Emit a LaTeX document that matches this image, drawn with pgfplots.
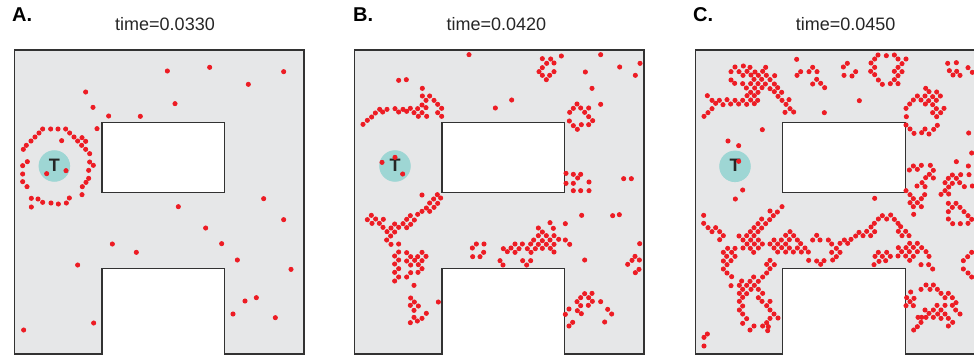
\documentclass[border=0pt]{standalone}
\usepackage{pgfplots}
\pgfplotsset{compat=1.18}
\usepackage{fontspec}
\setmainfont{Liberation Sans}
\definecolor{shapegray}{RGB}{230,231,232}
\definecolor{edgec}{RGB}{50,50,50}
\definecolor{dotred}{RGB}{237,28,36}
\definecolor{tealc}{RGB}{158,214,212}
\pgfplotsset{
  panel/.style={scale only axis, width=144.667pt, height=152pt,
    xmin=44, xmax=912, ymin=150, ymax=1062, y dir=reverse,
    hide axis, clip=false, anchor=north west},
  dot/.style={only marks, mark=*, mark size=1.05pt, color=dotred},
  target/.style={only marks, mark=*, mark size=7.67pt, color=tealc},
}
\newcommand{\tfont}{\fontsize{9}{10}\selectfont}
\newcommand{\lfont}{\bfseries\fontsize{9}{10}\selectfont}
\newcommand{\pfont}{\bfseries\fontsize{10}{11}\selectfont}
\begin{document}
\begin{tikzpicture}
\useasboundingbox (0,0) rectangle (487pt,-179pt);
\clip (0,0) rectangle (487pt,-179pt);
% labels and titles
\node[anchor=base west, inner sep=0pt, font=\pfont] at (5.85pt,-10.85pt) {A.};
\node[anchor=base west, inner sep=0pt, font=\pfont] at (176.35pt,-10.85pt) {B.};
\node[anchor=base west, inner sep=0pt, font=\pfont] at (346.35pt,-10.85pt) {C.};
\node[anchor=base, inner sep=0pt, font=\tfont, text=black!85] at (82.5pt,-15.5pt) {time=0.0330};
\node[anchor=base, inner sep=0pt, font=\tfont, text=black!85] at (248.2pt,-15.5pt) {time=0.0420};
\node[anchor=base, inner sep=0pt, font=\tfont, text=black!85] at (422.8pt,-15.5pt) {time=0.0450};

% ---------------- Panel A
\begin{axis}[panel, at={(7.333pt,-25pt)}]
\addplot[fill=shapegray, draw=edgec, line width=0.6pt] coordinates {(44,150) (912,150) (912,1062) (674,1062) (674,805) (306,805) (306,1062) (44,1062)} -- cycle;
\addplot[fill=white, draw=edgec, line width=0.6pt] coordinates {(306,367) (674,367) (674,577) (306,577)} -- cycle;
\addplot[target] coordinates {(163,498)};
\addplot[dot] coordinates {
(502,213) (629,202) (851,215) (745,253) (257,276) (279,322) (525,311) (326,348) (421,349) (291,386)
(128,387) (152,387) (174,387) (197,387) (117,399) (209,399) (105,411) (222,411) (93,423) (185,422) (233,423) (246,413) (257,424) (79,436) (245,436) (70,448) (257,448) (269,461) (82,485) (269,486) (68,497) (280,496) (68,522) (266,511) (140,521) (198,512) (266,535) (68,545) (258,547) (81,560) (247,560) (246,584) (94,595) (114,597) (208,594) (128,607) (153,609) (175,612) (199,609) (94,621)
(535,620) (791,596) (851,659) (617,684) (337,732) (665,731) (409,757) (712,780) (233,795) (873,808) (769,893) (735,903) (699,942) (826,953) (281,969) (71,990)
};
\end{axis}

% ---------------- Panel B
\begin{axis}[panel, at={(177.333pt,-25pt)}]
\addplot[fill=shapegray, draw=edgec, line width=0.6pt] coordinates {(44,150) (912,150) (912,1062) (674,1062) (674,805) (306,805) (306,1062) (44,1062)} -- cycle;
\addplot[fill=white, draw=edgec, line width=0.6pt] coordinates {(306,367) (674,367) (674,577) (306,577)} -- cycle;
\addplot[target] coordinates {(165,498)};
\addplot[dot] coordinates {
(387,164) (176,241) (199,239) (247,265) (247,288) (269,288) (258,301) (282,301) (246,315) (258,323) (293,313) (305,325) (293,338) (305,349) (260,349) (235,349) (246,338) (233,326) (222,338) (211,325) (200,334) (189,328) (176,336) (165,326) (141,328) (128,336) (119,328) (106,339) (95,351) (82,361) (69,373) (466,324)
(126,487) (188,522)
(246,585) (292,584) (302,594) (281,597) (269,609) (293,610) (259,624) (282,622) (246,634) (269,634) (233,643) (211,647) (223,660) (200,658) (189,671) (212,673) (200,683) (176,682) (164,672) (153,684) (164,696) (152,708) (140,720) (153,733) (176,732) (94,646) (82,659) (107,657) (96,670) (118,670) (130,658) (129,682) (141,695)
(176,756) (164,768) (176,780) (164,792) (176,806) (164,817) (176,831) (164,843) (200,758) (212,770) (200,783) (224,781) (212,795) (233,770) (246,757) (258,769) (246,782) (235,794) (246,806) (212,818) (234,817) (200,831) (222,856) (212,894) (223,906) (211,916) (235,918) (222,931) (259,940) (222,952) (246,955) (232,963) (211,968) (295,906)
(409,732) (432,732) (397,744) (431,757) (398,770) (420,770)
(607,176) (632,177) (642,189) (620,190) (607,203) (597,215) (607,226) (629,226) (642,215) (619,239) (664,168) (782,164) (839,201) (900,190) (886,226) (736,216) (756,265) (782,313) (515,300)
(711,312) (700,325) (722,324) (746,324) (689,337) (734,337) (746,350) (758,362) (688,363) (700,377) (724,374) (746,374) (712,388)
(678,520) (700,523) (722,523) (713,534) (678,550) (700,550) (747,546) (700,572) (722,572) (747,572) (851,536) (874,536) (725,646) (818,647) (838,644)
(630,668) (676,671) (595,684) (640,685) (607,696) (595,707) (619,707) (642,707) (581,720) (607,722) (630,720) (656,718) (676,720) (689,733) (572,732) (595,733) (619,733) (642,733) (525,732) (547,732) (490,746) (513,744) (537,746) (562,746) (586,746) (607,745) (631,745) (502,755) (525,757) (573,757) (642,756) (480,782) (548,782) (572,782) (560,795) (489,795) (734,780)
(899,731) (885,769) (876,781) (898,780) (863,793) (897,808) (886,818)
(734,881) (756,880) (722,893) (746,893) (711,905) (757,904) (782,905) (722,917) (745,916) (687,927) (712,932) (724,941) (803,928) (676,943) (815,942) (698,967) (794,966) (687,978)
};
\end{axis}

% ---------------- Panel C
\begin{axis}[panel, at={(347.667pt,-25pt)}, xmin=46, xmax=914]
\addplot[fill=shapegray, draw=edgec, line width=0.6pt] coordinates {(46,150) (914,150) (914,1062) (676,1062) (676,805) (307,805) (307,1062) (46,1062)} -- cycle;
\addplot[fill=white, draw=edgec, line width=0.6pt] coordinates {(307,367) (676,367) (676,577) (307,577)} -- cycle;
\addplot[target] coordinates {(165,499)};
\addplot[dot] coordinates {
(350,178)
(165,201) (190,198) (210,202) (257,202)
(153,215) (177,215) (201,214) (225,216) (248,214) (362,215) (387,215) (398,202) (411,215)
(189,226) (213,225) (235,226) (259,226) (284,227) (351,226)
(153,240) (222,238) (245,238) (270,239) (410,238)
(164,250) (188,251) (212,251) (234,251) (256,252) (283,252) (398,252) (422,250)
(199,264) (224,264) (246,263) (270,266) (293,263) (434,263)
(212,277) (234,277) (283,275) (305,277)
(82,287) (201,287) (223,287) (294,289)
(96,301) (118,301) (141,299) (165,301) (188,301) (212,300) (233,301) (306,301) (327,299)
(107,310) (129,314) (152,312) (176,312) (200,313) (223,311) (318,313)
(96,326) (330,326)
(84,338) (315,337) (341,336) (433,338)
(72,349) (247,389)
(144,423) (176,437) (188,570) (166,597)
(502,190) (490,201) (527,215) (492,226) (516,228)
(594,165) (619,167) (643,165) (584,177) (654,177) (678,177) (573,189) (666,191) (584,202) (654,202) (572,214) (643,214) (666,215) (584,224) (654,227) (595,240) (643,239) (607,253) (631,251) (654,251)
(538,302)
(737,265) (747,275) (770,276) (712,288) (735,288) (758,290) (781,288) (700,300) (723,300) (746,302) (769,301) (689,312) (736,312) (758,314) (678,325) (769,326) (792,325) (758,338) (782,338) (679,350) (770,350) (678,375) (772,376) (690,387) (735,387) (761,388) (702,400) (725,398) (747,402)
(803,190) (829,188) (864,203) (877,217) (808,212) (830,214) (819,225) (840,226)
(866,399) (875,459)
(829,485) (865,498) (867,524) (842,524) (817,525) (805,535) (829,535) (795,548) (817,550) (839,548) (853,560) (877,558) (806,561) (795,572) (783,583) (806,582)
(700,498) (724,496) (751,496) (688,510) (712,508) (760,511) (748,523) (737,533) (760,534) (726,548) (711,558) (735,560)
(678,572) (690,584) (734,584) (700,596) (724,596) (712,608) (690,608) (700,620) (724,620) (701,643)
(584,595)
(805,610) (828,610) (817,622) (840,622) (805,635) (852,635) (864,647) (805,657) (818,671) (841,671) (864,670) (875,658)
(607,647) (632,645) (595,657) (620,657) (643,658) (654,670) (583,670) (573,681) (662,680) (655,694) (677,694) (560,694) (584,695) (537,697) (549,707) (572,707) (666,707) (687,707) (527,708) (513,718) (493,720) (503,730) (480,730) (712,730) (689,730) (700,742) (678,743) (655,743) (665,755) (688,755) (712,755) (725,743) (738,755) (747,769) (700,769) (677,768) (689,781) (654,768) (723,794) (746,794) (758,807)
(595,757) (620,757) (585,769) (607,769) (631,769) (597,784) (617,782) (582,794)
(455,732) (469,745) (455,757) (480,757) (458,780) (469,770)
(875,757) (863,770) (850,782) (850,807) (864,819) (875,831)
(723,868) (738,855) (750,868) (760,855) (772,868) (783,880) (805,880) (795,893) (817,893) (828,908) (817,916) (827,930) (840,942) (795,916) (771,916) (783,930) (760,930) (747,940) (735,930) (725,952) (738,952) (760,952) (773,942) (783,955) (805,955) (795,942) (818,967) (805,978) (714,952) (723,967) (712,980) (701,990)
(692,876) (680,893) (690,905) (702,895) (678,917) (700,917)
(306,620) (270,633) (292,636) (280,647) (245,657) (269,659) (234,671) (257,671) (222,683) (245,684) (211,695) (234,695) (200,707) (222,707) (177,708) (189,720) (212,720) (235,720) (201,732) (223,732) (247,732) (189,744) (211,745) (235,744) (221,757)
(71,646) (71,670) (84,683) (107,683) (96,695) (119,695) (130,707) (119,719)
(270,732) (282,720) (293,732) (304,720) (305,743) (317,732) (317,706) (330,695) (341,707) (352,720) (328,719) (282,744) (293,756) (317,756) (328,744) (340,756) (352,744) (362,731) (364,756) (375,744) (385,756) (386,781) (398,720) (410,706) (420,720) (445,720) (410,783) (422,793) (432,782)
(143,745) (165,745) (130,757) (155,757) (140,769) (165,769) (130,783) (153,782) (141,794) (130,807) (141,819) (155,830) (153,857)
(270,781) (260,793) (283,794) (270,806) (260,819) (248,831) (221,831) (235,844) (185,843) (210,844) (178,856) (200,856) (223,856) (188,868) (213,868) (235,868) (178,880) (200,881) (235,893) (248,880) (188,892) (246,904) (270,904) (178,904) (188,918) (260,917) (178,930) (270,930) (188,942) (270,955) (282,942) (294,954) (200,956) (188,970) (222,978) (248,978) (260,968) (265,980) (263,992) (210,990)
(72,1012) (82,1002) (72,1038)
};
\end{axis}
% target labels, on top of everything
\node[font=\lfont, text=black!85, inner sep=0pt] at (27.17pt,-82.6pt) {T};
\node[font=\lfont, text=black!85, inner sep=0pt] at (197.5pt,-82.6pt) {T};
\node[font=\lfont, text=black!85, inner sep=0pt] at (367.5pt,-82.6pt) {T};
% dots that lie over the T labels
\begin{axis}[panel, at={(177.333pt,-25pt)}]
\addplot[dot] coordinates {(165,472)};
\end{axis}
\begin{axis}[panel, at={(347.667pt,-25pt)}, xmin=46, xmax=914]
\addplot[dot] coordinates {(176,484)};
\end{axis}
\end{tikzpicture}
\end{document}
